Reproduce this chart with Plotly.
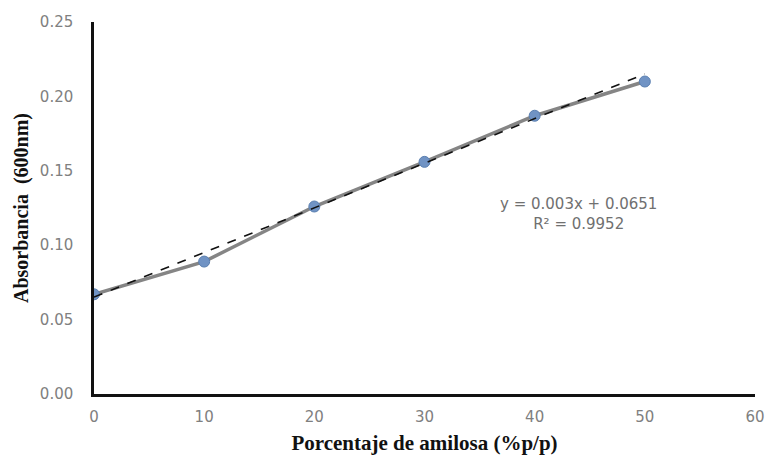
import plotly.graph_objects as go

# Calibration data: amylose percentage vs absorbance at 600 nm
amilosa = [0, 10, 20, 30, 40, 50]
absorbancia = [0.067, 0.089, 0.126, 0.156, 0.187, 0.210]

# Linear fit reported for the calibration curve
pendiente = 0.003
intercepto = 0.0651
ecuacion = "y = 0.003x + 0.0651"
r2_texto = "R² = 0.9952"

x_ticks = [0, 10, 20, 30, 40, 50, 60]
y_ticks = [0.00, 0.05, 0.10, 0.15, 0.20, 0.25]

tendencia_x = [amilosa[0], amilosa[-1]]
tendencia_y = [pendiente * v + intercepto for v in tendencia_x]

fig = go.Figure()

fig.add_trace(go.Scatter(
    x=amilosa, y=absorbancia, mode="lines+markers",
    line=dict(color="#858585", width=3.5),
    marker=dict(size=11, color="#7093c4", line=dict(color="#5a7fb0", width=1)),
    showlegend=False,
))

fig.add_trace(go.Scatter(
    x=tendencia_x, y=tendencia_y, mode="lines",
    line=dict(color="#111111", width=1.6, dash="dash"),
    showlegend=False,
))

fig.add_annotation(
    x=44.0, y=0.1213, xref="x", yref="y",
    text=ecuacion + "<br>" + r2_texto,
    showarrow=False, align="center",
    font=dict(family="DejaVu Sans", size=15, color="#707070"),
)

tick_font = dict(family="DejaVu Sans", size=15, color="#808080")
title_x_font = dict(family="Liberation Serif, Times New Roman", size=21, color="#111111")
title_y_font = dict(family="Liberation Serif, Times New Roman", size=20, color="#111111")

fig.update_xaxes(
    range=[0, 60], tickvals=x_ticks, ticktext=[str(v) for v in x_ticks],
    showline=True, linecolor="#111111", linewidth=2.5, showgrid=False,
    zeroline=False, ticks="", tickfont=tick_font, ticklabelstandoff=7,
    automargin=False,
    title=dict(text="<b>Porcentaje de amilosa (%p/p)</b>", font=title_x_font, standoff=13),
)
fig.update_yaxes(
    range=[0, 0.25], tickvals=y_ticks, ticktext=[f"{v:.2f}" for v in y_ticks],
    showline=True, linecolor="#111111", linewidth=2.5, showgrid=False,
    zeroline=False, ticks="", tickfont=tick_font, ticklabelstandoff=15,
    automargin=False,
    title=dict(text="<b>Absorbancia  (600nm)</b>", font=title_y_font, standoff=6),
)

fig.update_layout(
    width=769, height=455,
    margin=dict(l=94, r=14, t=22, b=61),
    plot_bgcolor="white", paper_bgcolor="white",
)

fig.write_html("out.html")
